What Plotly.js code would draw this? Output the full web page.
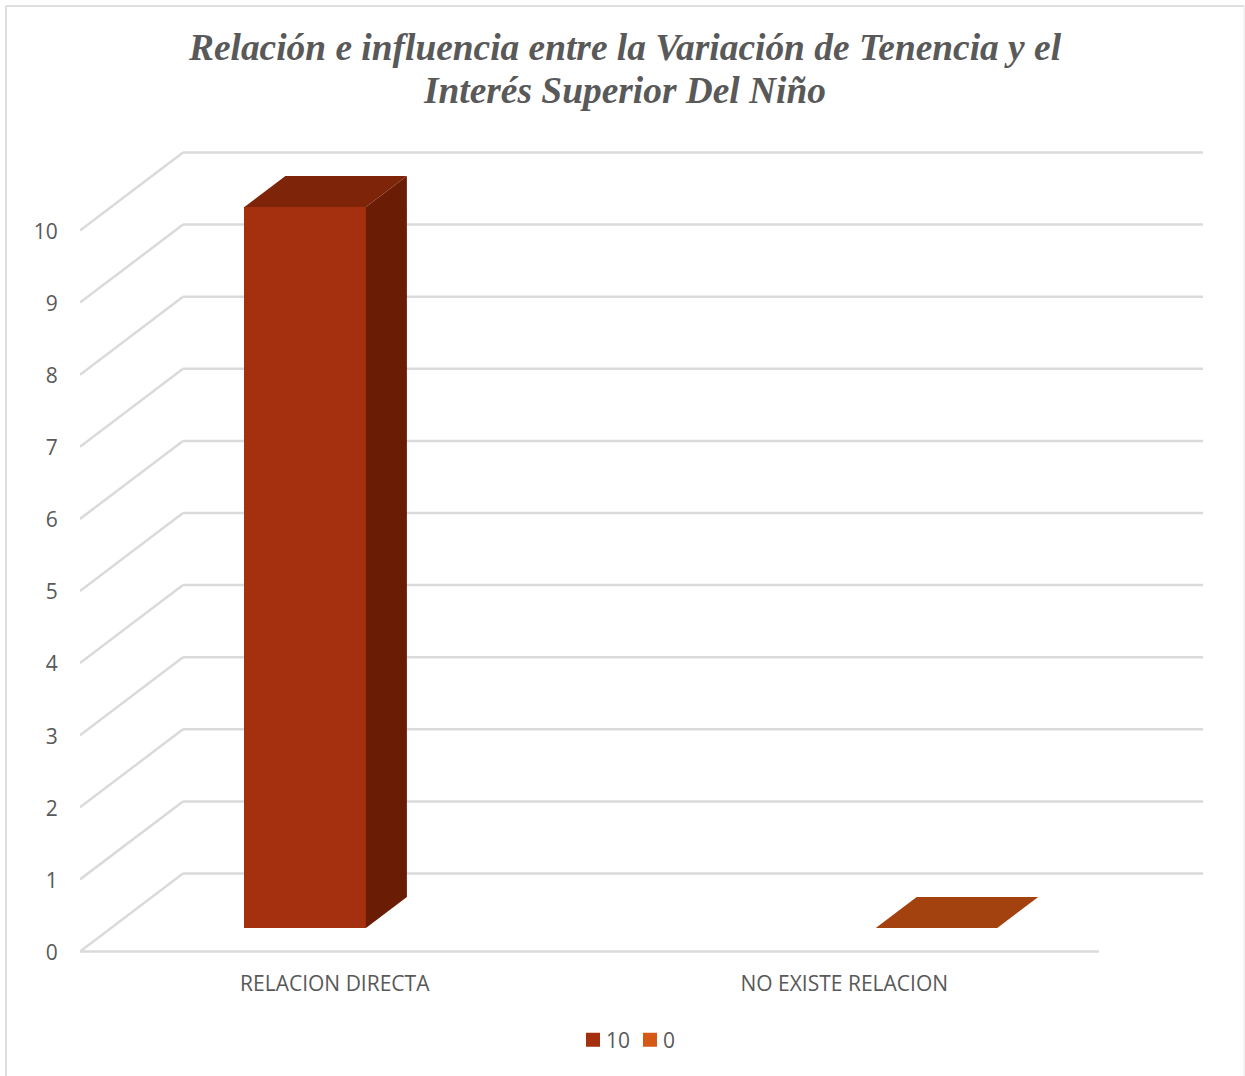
<!DOCTYPE html>
<html><head><meta charset="utf-8">
<script src="https://cdn.plot.ly/plotly-3.0.1.min.js"></script>
<style>html,body{margin:0;padding:0;background:#fff;overflow:hidden}</style>
</head><body><div id="chart" style="width:1245px;height:1076px"></div>
<script>
const categories = ["RELACION DIRECTA", "NO EXISTE RELACION"];
const seriesNames = ["10", "0"];
const seriesAValues = [10];
const seriesBValues = [0];
const yTicks = [0,1,2,3,4,5,6,7,8,9,10];

// page geometry
const W=1245,H=1076,L=80,R=1203,T=146,PB=956,Y0=951.5;
const unitX=509.5, unitY=72.1;
const xMin=-0.5, xMax=xMin+(R-L)/unitX, yMin=-(PB-Y0)/unitY, yMax=(Y0-T)/unitY;
const depthX=103/unitX, depthY=78/unitY;      // floor depth in axis units
const barW=121.5/unitX, barDepthX=41/unitX, barDepthY=31/unitY;
const barBase=23.5/unitY;
const barCenterA=-0.0581, barCenterB=1.181;
const frontEnd=1.5;

const px=v=>(v-L)/(R-L), py=v=>(PB-v)/(PB-T);

function sideFace(c,v){const a=c+barW/2,b=barBase+v;
  return {x:[a,a+barDepthX,a+barDepthX,a,a],y:[barBase,barBase+barDepthY,b+barDepthY,b,barBase]};}
function topFace(c,v){const a=c-barW/2,z=c+barW/2,b=barBase+v;
  return {x:[a,a+barDepthX,z+barDepthX,z,a],y:[b,b+barDepthY,b+barDepthY,b,b]};}
function face(p,color){return {x:p.x,y:p.y,mode:'lines',fill:'toself',fillcolor:color,
  line:{width:0,color:color},showlegend:false,hoverinfo:'skip',cliponaxis:false,type:'scatter'};}

const traces=[
 {type:'bar',name:seriesNames[0],legend:'legend',x:[barCenterA],y:seriesAValues,base:[barBase],width:[barW],marker:{color:'#A5300F',line:{width:0}}},
 {type:'bar',name:seriesNames[1],legend:'legend2',x:[barCenterB],y:seriesBValues,base:[barBase],width:[barW],marker:{color:'#D55816',line:{width:0}}},
 face(sideFace(barCenterA,seriesAValues[0]),'#6A1C05'),
 face(topFace(barCenterA,seriesAValues[0]),'#7E2409'),
 face(topFace(barCenterB,seriesBValues[0]),'#A3420F')
];

const grid='#DADADA';
const shapes=[];
yTicks.forEach(v=>{
  const ln=(x0,y0,x1,y1)=>shapes.push({type:'line',layer:'below',xref:'x',yref:'y',x0,y0,x1,y1,line:{color:grid,width:2.5}});
  ln(xMin,v,xMin+depthX,v+depthY);
  ln(xMin+depthX,v+depthY,xMax,v+depthY);
});
shapes.push({type:'line',layer:'below',xref:'x',yref:'y',x0:xMin,y0:0,x1:frontEnd,y1:0,line:{color:grid,width:2.5}});
// chart frame
const fr=(x0,y0,x1,y1,c)=>shapes.push({type:'line',layer:'below',xref:'paper',yref:'paper',x0:px(x0),y0:py(y0),x1:px(x1),y1:py(y1),line:{color:c,width:2}});
fr(6,6,1244,6,'#DEDEDE'); fr(6,6,6,1076,'#DEDEDE'); fr(1244.5,6,1244.5,1076,'#F0F0F0');

const tickF={family:'"Open Sans",sans-serif',size:21,color:'#595959'};
const legendBase={orientation:'h',xref:'container',xanchor:'left',y:1-1040/H,yref:'container',yanchor:'middle',
   font:tickF,bgcolor:'rgba(0,0,0,0)',itemwidth:30};
const layout={
 width:W,height:H,paper_bgcolor:'#fff',plot_bgcolor:'rgba(0,0,0,0)',
 margin:{l:L,r:W-R,t:T,b:H-PB,pad:0},
 barmode:'overlay',bargap:0,showlegend:true,
 title:{text:'<span style="font-size:37.4px">Relación e influencia entre la Variación de Tenencia y el<br>Interés Superior Del Niño</span>',
   font:{family:'"Liberation Serif",serif',size:33,color:'#595959',weight:700,style:'italic'},
   x:625/W,xanchor:'center',xref:'container',y:1-60/H,yanchor:'top',yref:'container'},
 xaxis:{range:[xMin,xMax],tickmode:'array',tickvals:[0,1],ticktext:categories,showgrid:false,zeroline:false,showline:false,
   ticks:'outside',ticklen:9,tickcolor:'rgba(0,0,0,0)',tickfont:tickF},
 yaxis:{range:[yMin,yMax],tickmode:'array',tickvals:yTicks,ticktext:yTicks.map(String),showgrid:false,zeroline:false,showline:false,
   ticks:'outside',ticklen:17,tickcolor:'rgba(0,0,0,0)',tickfont:tickF,ticklabelshift:1},
 legend:Object.assign({x:(606-40)/W},legendBase),
 legend2:Object.assign({x:(663-40)/W},legendBase),
 shapes
};
Plotly.newPlot('chart',traces,layout,{displayModeBar:false,staticPlot:true}).then(gd=>{
  // Office-style legend keys: larger squares sitting closer to their labels
  gd.querySelectorAll('.legendpoints path').forEach(p=>{
    p.setAttribute('d','M7,7H-7V-7H7Z');
    p.setAttribute('transform','translate(27,0)');
  });
});
</script></body></html>
